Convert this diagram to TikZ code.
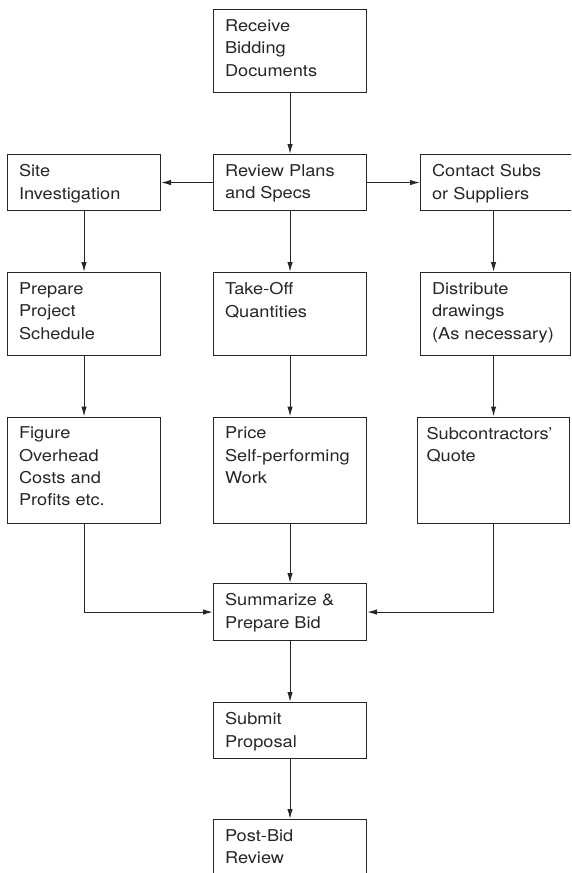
\documentclass[tikz,border=0pt]{standalone}
\usepackage{fontspec}
\setmainfont{TeX Gyre Heros}[FakeStretch=1.117]
\usetikzlibrary{arrows.meta}
\usetikzlibrary{calc}

\definecolor{ink}{gray}{0.15}
\tikzset{
  stepbox/.style={draw=ink, line width=1.1pt, anchor=north west, text=ink,
    inner xsep=11.5pt, inner ysep=10pt, font=\fontsize{16.3}{22.3}\selectfont},
  flow/.style={ink, line width=1.1pt, ->, >={Latex[length=10pt,width=5.5pt]}}
}
\newcommand{\steptext}[3]{\parbox[c][#1pt][t]{#2pt}{\raggedright #3}}

\begin{document}
\begin{tikzpicture}[x=1pt, y=1pt]
\useasboundingbox (0,0) rectangle (571,-873);
\clip (0,0) rectangle (571,-873);
% top row
\node[stepbox] (recv) at (213,-9) {\steptext{63}{130}{Receive\\Bidding\\Documents}};
\node[stepbox] (site) at (7,-154) {\steptext{36}{130}{Site\\Investigation}};
\node[stepbox] (review) at (213,-154) {\steptext{36}{130}{Review Plans\\and Specs}};
\node[stepbox] (contact) at (420,-154) {\steptext{36}{130}{Contact Subs\\or Suppliers}};
% second row
\node[stepbox] (prep) at (7,-272) {\steptext{63}{130}{Prepare\\Project\\Schedule}};
\node[stepbox] (takeoff) at (213,-272) {\steptext{63}{130}{Take-Off\\Quantities}};
\node[stepbox] (distr) at (420,-272) {\steptext{63}{127}{Distribute\\drawings\\(As necessary)}};
% third row
\node[stepbox] (figure) at (7,-416.5) {\steptext{86}{130}{Figure\\Overhead\\Costs and\\Profits etc.}};
\node[stepbox] (price) at (213,-416.5) {\steptext{86}{130}{Price\\Self-performing\\Work}};
\node[stepbox, inner xsep=9pt] (subq) at (417,-416.5) {\steptext{86}{134}{Subcontractors'\\Quote}};
% final steps
\node[stepbox] (summ) at (213,-583) {\steptext{37}{130}{Summarize \&\\Prepare Bid}};
\node[stepbox] (submit) at (213,-702) {\steptext{36}{130}{Submit\\Proposal}};
\node[stepbox] (post) at (213,-819) {\steptext{36}{130}{Post-Bid\\Review}};

\draw[flow] (recv) -- (review);
\draw[flow] (review) -- (site);
\draw[flow] (review) -- (contact);
\draw[flow] (site) -- (prep);
\draw[flow] (review) -- (takeoff);
\draw[flow] (contact.south -| subq) -- (distr.north -| subq);
\draw[flow] (prep) -- (figure);
\draw[flow] (takeoff) -- (price);
\draw[flow] (distr.south -| subq) -- (subq);
\draw[flow] (figure) |- (summ);
\draw[flow] (price) -- (summ);
\draw[flow] (subq) |- (summ);
\draw[flow] (summ) -- (submit);
\draw[flow] (submit) -- (post);
\end{tikzpicture}
\end{document}
